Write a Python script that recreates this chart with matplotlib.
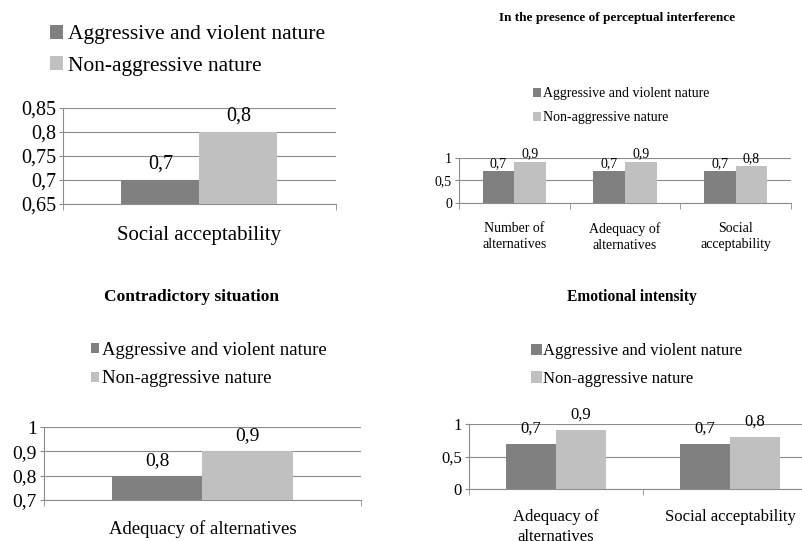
import matplotlib

matplotlib.use("Agg")

import matplotlib.pyplot as plt
import numpy as np
from matplotlib.patches import Patch

plt.rcParams["font.family"] = ["Liberation Serif", "DejaVu Serif"]

DARK = "#808080"
LIGHT = "#c0c0c0"
GRID = "#8c8c8c"
INK = "#000000"

SERIES = ["Aggressive and violent nature", "Non-aggressive nature"]

# panel 1: no title
p1_cats = ["Social acceptability"]
p1_aggr = [0.7]
p1_non = [0.8]
p1_yticks = [0.65, 0.7, 0.75, 0.8, 0.85]

# panel 2
p2_title = "In the presence of perceptual interference"
p2_cats = ["Number of\nalternatives", "Adequacy of\nalternatives", "Social\nacceptability"]
p2_aggr = [0.7, 0.7, 0.7]
p2_non = [0.91, 0.91, 0.82]
p2_yticks = [0, 0.5, 1]

# panel 3
p3_title = "Contradictory situation"
p3_cats = ["Adequacy of alternatives"]
p3_aggr = [0.8]
p3_non = [0.9]
p3_yticks = [0.7, 0.8, 0.9, 1]

# panel 4
p4_title = "Emotional intensity"
p4_cats = ["Adequacy of\nalternatives", "Social acceptability"]
p4_aggr = [0.7, 0.7]
p4_non = [0.91, 0.8]
p4_yticks = [0, 0.5, 1]

W, H = 803, 541
fig = plt.figure(figsize=(W / 100, H / 100), dpi=100)


def comma(v):
    return f"{v:g}".replace(".", ",")


def panel(box, cats, aggr, non, yticks, fs, xfs, xpad, lab_off, leg, title=None):
    x0, y0, x1, y1 = box
    ax = fig.add_axes([x0 / W, 1 - y1 / H, (x1 - x0) / W, (y1 - y0) / H])
    x = np.arange(len(cats))
    bw = 1 / 3.5
    b1 = ax.bar(x - bw / 2, aggr, bw, color=DARK, zorder=3)
    b2 = ax.bar(x + bw / 2, non, bw, color=LIGHT, zorder=3)
    for bars, vals in ((b1, aggr), (b2, non)):
        for r, v in zip(bars, vals):
            ax.annotate(f"{v:.1f}".replace(".", ","), (r.get_x() + r.get_width() / 2, v),
                        xytext=(0, lab_off), textcoords="offset points",
                        ha="center", va="bottom", fontsize=fs, color=INK, zorder=4)
    ax.set_xlim(-0.5, len(cats) - 0.5)
    ax.set_ylim(yticks[0], yticks[-1])
    ax.set_yticks(yticks)
    ax.set_yticklabels([comma(t) for t in yticks], fontsize=fs)
    ax.set_xticks(x)
    ax.set_xticklabels(cats, fontsize=xfs, linespacing=1.3)
    ax.set_xticks(np.arange(len(cats) + 1) - 0.5, minor=True)
    ax.tick_params(axis="x", which="major", length=0, pad=xpad)
    ax.tick_params(axis="x", which="minor", length=4, color=GRID, direction="out")
    ax.tick_params(axis="y", length=3, color=GRID, pad=2)
    ax.grid(axis="y", color=GRID, lw=0.8, zorder=0)
    for s in ("top", "right"):
        ax.spines[s].set_visible(False)
    for s in ("left", "bottom"):
        ax.spines[s].set_color(GRID)
        ax.spines[s].set_linewidth(0.8)

    lx, ly, lfs, lsp, hsize, hpad = leg
    handles = [Patch(facecolor=DARK, label=SERIES[0]), Patch(facecolor=LIGHT, label=SERIES[1])]
    ax.legend(handles=handles, loc="upper left",
              bbox_to_anchor=(lx / W, 1 - ly / H),
              bbox_transform=fig.transFigure, frameon=False, fontsize=lfs,
              handlelength=hsize, handleheight=hsize, handletextpad=hpad,
              labelspacing=lsp, borderpad=0, borderaxespad=0)
    if title:
        text, tx, ty, tfs = title
        fig.text(tx / W, 1 - ty / H, text, ha="center", va="center",
                 fontsize=tfs, fontweight="bold", color=INK)
    return ax


panel((63, 108, 336, 204), p1_cats, p1_aggr, p1_non, p1_yticks, 14.5, 15, 16, 5,
      (50, 25, 15.5, 0.55, 0.6, 0.23))
panel((459, 158, 791, 203), p2_cats, p2_aggr, p2_non, p2_yticks, 10, 10, 14, 1,
      (533, 87, 10, 0.8, 0.6, 0.15), (p2_title, 617, 18, 9.5))
panel((44, 427, 361, 500), p3_cats, p3_aggr, p3_non, p3_yticks, 14, 13.5, 14.5, 5,
      (91, 342, 13.5, 0.6, 0.45, 0.12), (p3_title, 192, 297, 12.5))
panel((469, 424, 817, 489), p4_cats, p4_aggr, p4_non, p4_yticks, 12, 12, 14.5, 5,
      (531, 343, 12, 0.71, 0.65, 0.08), (p4_title, 632, 297, 11.2))

fig.savefig("out.png", dpi=100)
